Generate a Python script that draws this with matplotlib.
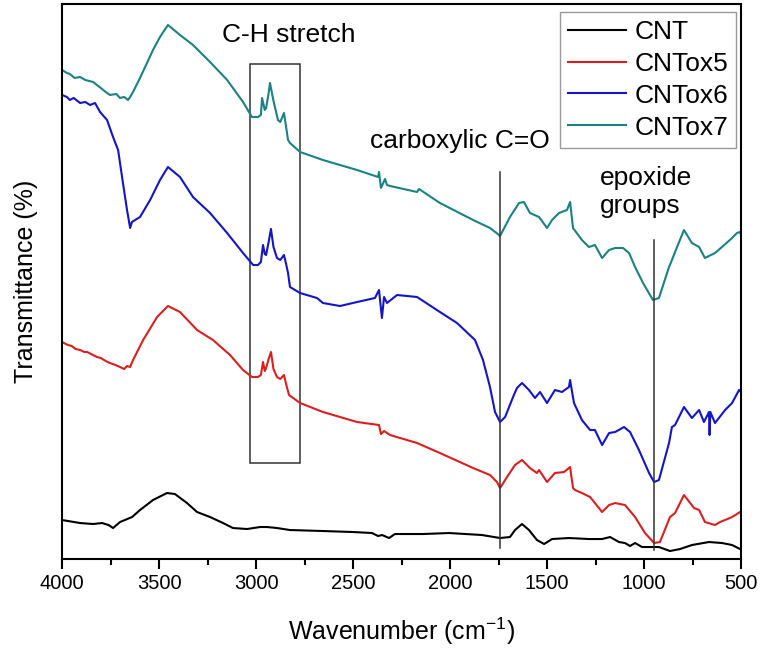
import matplotlib
matplotlib.use("Agg")
import matplotlib.pyplot as plt
from matplotlib.ticker import MultipleLocator
from matplotlib.patches import Rectangle

plt.rcParams['font.family'] = ['Liberation Sans', 'DejaVu Sans']
plt.rcParams['mathtext.default'] = 'regular'

# ---- data (wavenumber in cm^-1, transmittance in arbitrary offset units) ----
cnt_w = [4000, 3907, 3840, 3794, 3760, 3737, 3701, 3639, 3598, 3531, 3459, 3418, 3356, 3304,
         3237, 3170, 3119, 3046, 2979, 2943, 2892, 2825, 2655, 2500, 2402, 2371, 2350, 2314,
         2284, 2139, 2005, 1835, 1742, 1691, 1665, 1629, 1593, 1552, 1515, 1474, 1387, 1284,
         1216, 1175, 1129, 1098, 1072, 1046, 1010, 974, 923, 866, 814, 753, 665, 598, 546, 505, 500]
cnt_t = [39, 36, 35, 36, 34, 31, 37, 42, 49, 59, 66, 65, 56, 47,
         42, 36, 31, 30, 32, 32, 31, 29, 28, 27, 26, 23, 24, 21,
         25, 25, 26, 24, 21, 22, 29, 35, 29, 19, 15, 20, 21, 20,
         20, 22, 17, 16, 13, 16, 12, 12, 12, 8, 10, 14, 17, 16, 14, 10, 10]

ox5_w = [4000, 3970, 3950, 3930, 3907, 3885, 3870, 3840, 3820, 3800, 3775, 3753, 3725, 3701,
         3680, 3665, 3649, 3634, 3582, 3510, 3454, 3392, 3304, 3222, 3134, 3067, 3021, 2990,
         2975, 2964, 2955, 2948, 2935, 2923, 2910, 2892, 2875, 2856, 2845, 2830, 2773, 2655,
         2479, 2366, 2356, 2340, 2309, 2170,
         2052, 1881, 1794, 1758, 1742, 1706, 1665, 1629, 1588, 1552, 1541, 1500, 1459, 1412,
         1381, 1366, 1356, 1320, 1278, 1253, 1216, 1180, 1149, 1098, 1046, 995, 948, 918,
         866, 840, 794, 742, 716, 686, 634, 608, 582, 546, 505, 500]
ox5_t = [217, 214, 213, 210, 209, 207, 207, 204, 202, 201, 198, 196, 194, 192,
         190, 193, 192, 199, 219, 242, 253, 247, 229, 219, 204, 189, 182, 182,
         184, 197, 188, 191, 200, 207, 190, 182, 180, 184, 175, 164, 156, 147,
         137, 134, 125, 128, 124, 116,
         106, 91, 84, 77, 71, 82, 94, 99, 91, 86, 89, 77, 86, 87,
         92, 71, 69, 66, 62, 56, 47, 54, 56, 54, 42, 26, 16, 17,
         42, 46, 64, 51, 49, 37, 34, 37, 39, 42, 47, 47]

ox6_w = [4000, 3975, 3960, 3940, 3907, 3880, 3856, 3830, 3804, 3768, 3737, 3711, 3686, 3665,
         3649, 3640, 3598, 3546, 3495, 3454, 3392, 3325, 3237, 3149, 3067, 3015, 2990, 2975,
         2964, 2955, 2948, 2935, 2923, 2910, 2892, 2875, 2856, 2845, 2835, 2825, 2773, 2686,
         2655, 2567, 2479, 2387, 2366, 2351,
         2340, 2325, 2273, 2170, 2052, 1964, 1871, 1830, 1794, 1768, 1742, 1716, 1675, 1655,
         1629, 1593, 1562, 1536, 1500, 1459, 1423, 1387, 1381, 1361, 1320, 1278, 1253, 1216,
         1180, 1149, 1103, 1072, 1026, 974, 948, 923, 871, 856, 840, 794, 753, 716, 691, 665,
         662, 658, 634, 582, 546, 510, 500]
ox6_t = [464, 462, 459, 461, 456, 457, 454, 456, 447, 439, 422, 409, 376, 349,
         331, 337, 342, 359, 379, 392, 382, 362, 346, 326, 306, 294, 294, 297,
         314, 305, 304, 317, 330, 312, 301, 299, 304, 295, 286, 272, 266, 261,
         256, 253, 257, 261, 269, 241,
         262, 256, 264, 262, 247, 236, 219, 199, 172, 147, 137, 142, 162, 171,
         176, 169, 161, 167, 156, 169, 167, 172, 179, 156, 139, 129, 129, 114,
         126, 127, 132, 127, 109, 86, 77, 79, 116, 132, 134, 152, 141, 149, 137, 147,
         124, 147, 136, 149, 156, 169, 167]

ox7_w = [4000, 3975, 3960, 3935, 3907, 3880, 3860, 3840, 3820, 3800, 3775, 3753, 3720, 3701,
         3680, 3660, 3649, 3634, 3598, 3531, 3495, 3454, 3392, 3325, 3237, 3149, 3067, 3021,
         2990, 2975, 2969, 2955, 2948, 2935, 2928, 2910, 2887, 2875, 2856, 2845, 2835, 2825,
         2773, 2655, 2603, 2479, 2371, 2366,
         2356, 2335, 2325, 2309, 2170, 2160, 2052, 1881, 1794, 1747, 1742, 1691, 1644, 1619,
         1588, 1541, 1500, 1474, 1438, 1397, 1381, 1366, 1320, 1284, 1253, 1216, 1180, 1149,
         1108, 1077, 1046, 1005, 954, 923, 871, 856, 840, 794, 753, 716, 686, 634, 598, 546,
         521, 505, 500]
ox7_t = [489, 486, 485, 481, 482, 479, 478, 477, 474, 471, 467, 464, 465, 461,
         462, 459, 462, 467, 481, 509, 522, 534, 524, 514, 497, 479, 457, 442,
         442, 444, 461, 449, 451, 466, 476, 458, 439, 437, 446, 432, 419, 416,
         407, 399, 396, 389, 382, 387,
         371, 380, 374, 373, 367, 370, 356, 339, 331, 324, 323, 342, 356, 357,
         346, 342, 331, 339, 346, 349, 357, 331, 319, 312, 314, 301, 309, 311,
         311, 306, 292, 276, 259, 261, 292, 299, 307, 329, 316, 312, 301, 306, 312, 321,
         326, 327, 324]

series_labels = ['CNT', 'CNTox5', 'CNTox6', 'CNTox7']
series_colors = ['#000000', '#dc1e1e', '#1414c8', '#1a8282']

# annotations (wavenumber, y-from, y-to)
carboxyl_w, carboxyl_y = 1742, (11, 387)
epoxide_w, epoxide_y = 948, (9, 319)
ch_box_w, ch_box_y = (3030, 2773), (96, 495)

fig = plt.figure(figsize=(7.64, 6.52), dpi=100)
ax = fig.add_axes([0.0812, 0.1426, 0.8887, 0.8513])

for w, t, lab, c in zip([cnt_w, ox5_w, ox6_w, ox7_w], [cnt_t, ox5_t, ox6_t, ox7_t],
                        series_labels, series_colors):
    ax.plot(w, t, color=c, lw=1.5, label=lab)

ax.plot([carboxyl_w, carboxyl_w], carboxyl_y, color='#333333', lw=1.1)
ax.plot([epoxide_w, epoxide_w], epoxide_y, color='#333333', lw=1.1)
ax.add_patch(Rectangle((ch_box_w[0], ch_box_y[0]), ch_box_w[1] - ch_box_w[0],
                       ch_box_y[1] - ch_box_y[0], fill=False, ec='#333333', lw=1.1))

fs = 19
ax.text(2830, 517, 'C-H stretch', fontsize=fs, ha='center', va='baseline')
ax.text(2412, 411, 'carboxylic C=O', fontsize=fs, ha='left', va='baseline')
ax.text(1227, 374, 'epoxide', fontsize=fs, ha='left', va='baseline')
ax.text(1227, 346, 'groups', fontsize=fs, ha='left', va='baseline')

ax.set_xlim(4000, 500)
ax.set_ylim(0, 555)
ax.xaxis.set_major_locator(MultipleLocator(500))
ax.xaxis.set_minor_locator(MultipleLocator(250))
ax.tick_params(axis='x', which='major', direction='out', length=7, width=1.5,
               labelsize=14.5, pad=4, top=False)
ax.tick_params(axis='x', which='minor', direction='out', length=4.5, width=1.5, top=False)
ax.set_yticks([])
for s in ax.spines.values():
    s.set_linewidth(1.5)

ax.set_xlabel(r'Wavenumber (cm$^{-1}$)', fontsize=18, labelpad=16)
ax.set_ylabel('Transmittance (%)', fontsize=18, labelpad=17)

leg = ax.legend(loc='upper right', bbox_to_anchor=(0.9926, 0.9856), borderaxespad=0,
                fontsize=fs, frameon=True, fancybox=False, edgecolor='#808080',
                handlelength=2.2, handletextpad=0.3, labelspacing=0.3, borderpad=0.3)
leg.get_frame().set_linewidth(1.0)

fig.savefig('out.png', dpi=100)
